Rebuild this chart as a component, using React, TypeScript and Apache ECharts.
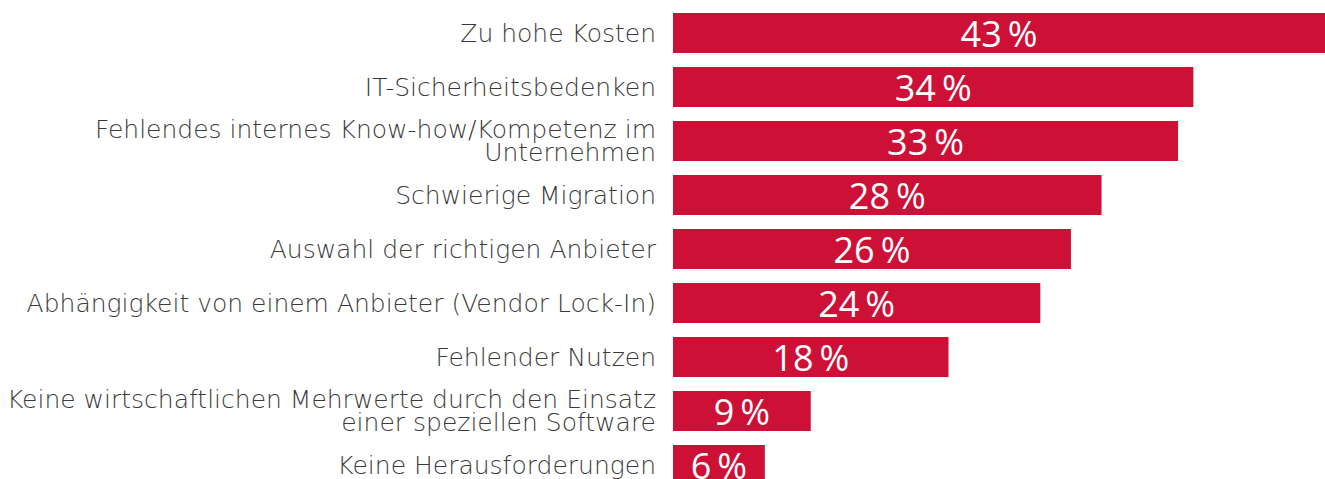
import React, { useEffect, useRef } from "react";
import * as echarts from "echarts";

const categories = [
  "Zu hohe Kosten",
  "IT-Sicherheitsbedenken",
  "Fehlendes internes Know-how/Kompetenz im\nUnternehmen",
  "Schwierige Migration",
  "Auswahl der richtigen Anbieter",
  "Abhängigkeit von einem Anbieter (Vendor Lock-In)",
  "Fehlender Nutzen",
  "Keine wirtschaftlichen Mehrwerte durch den Einsatz\neiner speziellen Software",
  "Keine Herausforderungen",
];
const values = [43, 34, 33, 28, 26, 24, 18, 9, 6];

export default function App() {
  const ref = useRef<HTMLDivElement>(null);
  useEffect(() => {
    if (!ref.current) return;
    const chart = echarts.init(ref.current, null, { renderer: "svg" });
    chart.setOption({
      animation: false,
      grid: { left: 673, right: 0, top: 6, height: 486, containLabel: false },
      xAxis: {
        type: "value",
        min: 0,
        max: 42.6,
        show: false,
      },
      yAxis: {
        type: "category",
        data: categories,
        inverse: true,
        axisLine: { show: false },
        axisTick: { show: false },
        splitLine: { show: false },
        axisLabel: {
          margin: 17,
          fontFamily: "'DejaVu Sans ExtraLight', 'DejaVu Sans'",
          fontWeight: 200,
          fontSize: 25,
          lineHeight: 23,
          padding: [3, 0, 0, 0],
          color: "#3a3a3a",
          align: "right",
        },
      },
      series: [
        {
          type: "bar",
          data: values,
          barWidth: 40,
          clip: true,
          itemStyle: { color: "#CD1036" },
          label: {
            show: true,
            position: "inside",
            formatter: (p: any) => `${p.value}\u2009%`,
            color: "#ffffff",
            fontFamily: "Open Sans",
            fontWeight: 400,
            fontSize: 36,
          },
        },
      ],
    });
    return () => chart.dispose();
  }, []);
  return (
    <div style={{ position: "fixed", left: 0, top: 0, width: 1325, height: 479, overflow: "hidden", background: "#fff" }}>
      <div ref={ref} style={{ width: 1325, height: 500 }} />
    </div>
  );
}
